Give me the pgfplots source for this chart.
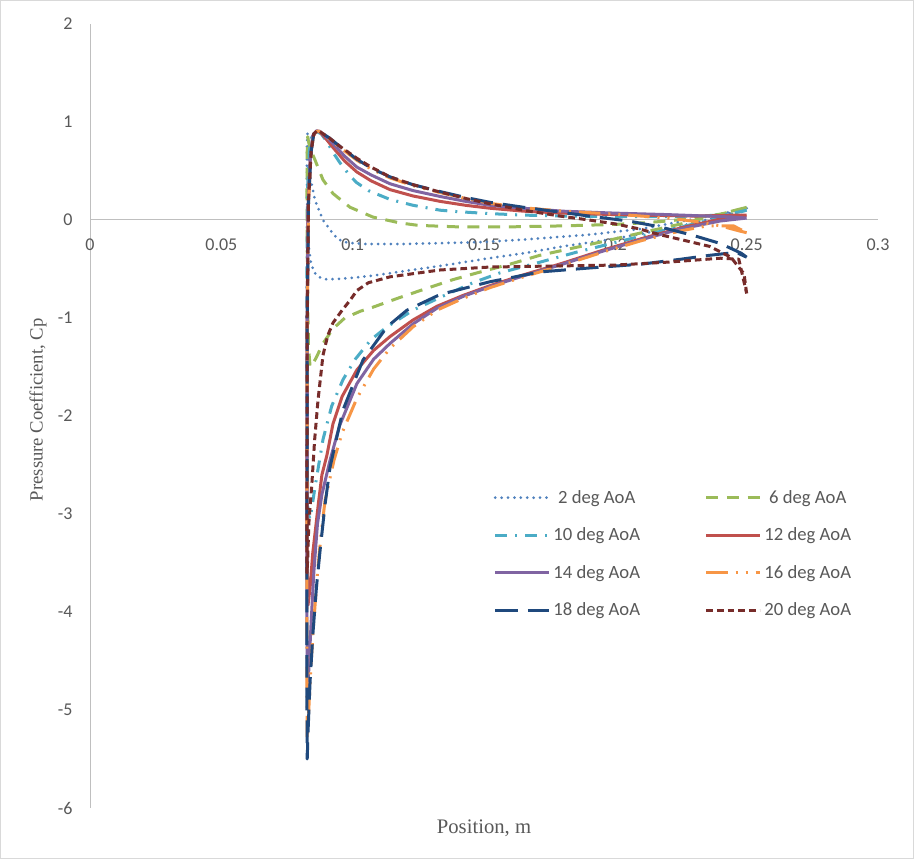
\documentclass[border=0pt]{standalone}
\usepackage{pgfplots}
\pgfplotsset{compat=1.18}
\usepackage{fontspec}
\setmainfont{Liberation Serif}
\newfontfamily\carlito{Carlito}
\definecolor{axgray}{HTML}{BFBFBF}
\definecolor{txtgray}{HTML}{595959}
\definecolor{framegray}{HTML}{D9D9D9}
\definecolor{cA}{HTML}{4F81BD}
\definecolor{cB}{HTML}{9BBB59}
\definecolor{cC}{HTML}{4BACC6}
\definecolor{cD}{HTML}{C0504D}
\definecolor{cE}{HTML}{8064A2}
\definecolor{cF}{HTML}{F79646}
\definecolor{cG}{HTML}{1F497D}
\definecolor{cH}{HTML}{772C2A}
\begin{document}
\begin{tikzpicture}
\draw[framegray, line width=0.75pt, fill=white] (0.375pt,0.375pt) rectangle (685.125pt,643.875pt);
\begin{axis}[
  at={(67.5pt,38.25pt)}, anchor=south west,
  scale only axis, width=591pt, height=588pt,
  xmin=0, xmax=0.3, ymin=-6, ymax=2,
  clip mode=individual,
  axis x line=middle, axis y line=left,
  axis line style={-, draw=axgray, line width=0.75pt},
  xtick={0,0.05,0.1,0.15,0.2,0.25,0.3},
  xticklabels={0,0.05,0.1,0.15,0.2,0.25,0.3},
  ytick={-6,-5,-4,-3,-2,-1,0,1,2},
  yticklabels={-6,-5,-4,-3,-2,-1,0,1,2},
  major tick length=0pt,
  ticklabel style={font=\carlito\fontsize{13.5}{16}\selectfont, text=txtgray},
  xticklabel style={anchor=north, yshift=-10.5pt},
  yticklabel style={anchor=east, xshift=-9.5pt},
  xlabel={Position, m}, ylabel={Pressure Coefficient, Cp},
  every axis x label/.style={at={(axis description cs:0.5,-0.0255)}, anchor=center, font=\fontsize{15.5}{18}\selectfont, text=txtgray},
  every axis y label/.style={at={(axis description cs:-0.066,0.508)}, anchor=center, rotate=90, font=\fontsize{14}{17}\selectfont, text=txtgray},
  no markers,
  every axis plot/.append style={line width=2.25pt, line join=round},
  legend columns=2,
  legend image code/.code={\draw[#1] (0pt,0pt) -- (40pt,0pt);},
  legend style={at={(rel axis cs:0.512,0.410)}, anchor=north west, draw=none, fill=none,
    inner sep=0pt, font=\carlito\fontsize{14}{16}\selectfont, text=txtgray,
    nodes={inner sep=2.5pt}, row sep=12pt,
    /tikz/every even column/.append style={column sep=46pt}},
]
% 2 deg
\addplot[cA, line cap=round, dash pattern=on 0pt off 4.8pt] coordinates {
(0.2500,0.12)(0.2450,0.09)(0.2400,0.06)(0.2300,0.01)(0.2200,-0.04)(0.2100,-0.09)(0.2000,-0.12)(0.1900,-0.15)(0.1800,-0.17)(0.1650,-0.20)(0.1500,-0.225)(0.1350,-0.235)(0.1200,-0.245)(0.1050,-0.245)(0.0990,-0.235)(0.0960,-0.22)(0.0935,-0.17)(0.0914,-0.10)(0.0887,0.00)(0.0857,0.20)(0.0838,0.44)(0.0830,0.65)(0.0827,0.80)(0.0828,0.88)
(0.0826,0.75)(0.0826,0.40)(0.0828,0.0)(0.0832,-0.25)(0.0840,-0.42)(0.0852,-0.53)(0.0870,-0.58)(0.0900,-0.605)(0.0950,-0.60)(0.1000,-0.59)(0.1100,-0.56)(0.1200,-0.52)(0.1330,-0.47)(0.1450,-0.42)(0.1520,-0.39)(0.1650,-0.34)(0.1800,-0.27)(0.1900,-0.23)(0.2000,-0.19)(0.2100,-0.14)(0.2200,-0.09)(0.2300,-0.03)(0.2400,0.04)(0.2500,0.12)
};
\addlegendentry{2 deg AoA}
% 6 deg
\addplot[cB, dash pattern=on 9pt off 6.5pt] coordinates {
(0.2500,0.13)(0.2450,0.09)(0.2400,0.06)(0.2300,0.02)(0.2200,-0.01)(0.2100,-0.03)(0.2000,-0.045)(0.1800,-0.06)(0.1600,-0.07)(0.1400,-0.07)(0.1250,-0.055)(0.1180,-0.03)(0.1077,0.03)(0.0990,0.13)(0.0925,0.27)(0.0887,0.41)(0.0857,0.61)(0.0838,0.73)(0.0832,0.80)(0.0829,0.85)
(0.0827,0.70)(0.0826,0.30)(0.0827,-0.3)(0.0829,-0.9)(0.0832,-1.3)(0.0838,-1.5)(0.0848,-1.47)(0.0862,-1.40)(0.0887,-1.26)(0.0925,-1.11)(0.0970,-1.0)(0.1030,-0.93)(0.1077,-0.89)(0.1170,-0.80)(0.1268,-0.71)(0.1380,-0.61)(0.1473,-0.54)(0.1600,-0.45)(0.1713,-0.36)(0.1850,-0.28)(0.1970,-0.21)(0.2100,-0.13)(0.2250,-0.04)(0.2400,0.06)(0.2500,0.13)
};
\addlegendentry{6 deg AoA}
% 10 deg
\addplot[cC, dash pattern=on 9pt off 6pt on 1.5pt off 6pt] coordinates {
(0.2500,0.10)(0.2450,0.07)(0.2400,0.05)(0.2300,0.04)(0.2200,0.035)(0.2000,0.035)(0.1800,0.04)(0.1650,0.05)(0.1523,0.065)(0.1400,0.085)(0.1333,0.10)(0.1230,0.15)(0.1142,0.21)(0.1060,0.30)(0.1016,0.38)(0.0990,0.45)(0.0950,0.59)(0.0925,0.69)(0.0902,0.80)(0.0880,0.88)(0.0860,0.905)(0.0845,0.88)
(0.0835,0.7)(0.0828,0.3)(0.0826,-0.5)(0.0826,-1.5)(0.0827,-2.5)(0.0830,-3.0)(0.0838,-3.05)(0.0857,-2.72)(0.0887,-2.24)(0.0920,-1.9)(0.0963,-1.63)(0.1010,-1.42)(0.1070,-1.22)(0.1131,-1.09)(0.1230,-0.92)(0.1333,-0.79)(0.1458,-0.64)(0.1560,-0.54)(0.1700,-0.44)(0.1850,-0.33)(0.2000,-0.23)(0.2150,-0.13)(0.2300,-0.04)(0.2420,0.04)(0.2500,0.10)
};
\addlegendentry{10 deg AoA}
% 12 deg
\addplot[cD] coordinates {
(0.2500,0.05)(0.2450,0.05)(0.2400,0.045)(0.2300,0.04)(0.2200,0.045)(0.2000,0.055)(0.1800,0.07)(0.1650,0.09)(0.1523,0.12)(0.1430,0.15)(0.1333,0.19)(0.1230,0.245)(0.1142,0.31)(0.1070,0.40)(0.1016,0.49)(0.0970,0.60)(0.0925,0.74)(0.0895,0.84)(0.0875,0.90)(0.0862,0.905)(0.0848,0.85)
(0.0838,0.6)(0.0830,0.1)(0.0827,-1.0)(0.0826,-2.5)(0.0827,-3.5)(0.0830,-3.93)(0.0838,-3.75)(0.0848,-3.4)(0.0857,-3.19)(0.0870,-2.88)(0.0883,-2.6)(0.0902,-2.40)(0.0925,-2.08)(0.0960,-1.80)(0.1016,-1.53)(0.1080,-1.33)(0.1142,-1.19)(0.1230,-1.02)(0.1321,-0.88)(0.1420,-0.77)(0.1523,-0.67)(0.1650,-0.56)(0.1800,-0.44)(0.1950,-0.31)(0.2100,-0.19)(0.2250,-0.08)(0.2400,0.01)(0.2500,0.05)
};
\addlegendentry{12 deg AoA}
% 14 deg
\addplot[cE] coordinates {
(0.2500,0.02)(0.2450,0.03)(0.2400,0.035)(0.2300,0.045)(0.2200,0.055)(0.2000,0.07)(0.1800,0.09)(0.1650,0.12)(0.1523,0.15)(0.1430,0.19)(0.1333,0.24)(0.1230,0.30)(0.1142,0.37)(0.1070,0.46)(0.1016,0.54)(0.0970,0.65)(0.0925,0.78)(0.0895,0.86)(0.0875,0.905)(0.0862,0.91)(0.0848,0.86)
(0.0838,0.6)(0.0830,0.1)(0.0827,-1.0)(0.0826,-3.0)(0.0826,-4.3)(0.0828,-4.8)(0.0834,-4.55)(0.0842,-4.1)(0.0852,-3.6)(0.0866,-3.1)(0.0883,-2.80)(0.0914,-2.45)(0.0950,-2.10)(0.1016,-1.67)(0.1080,-1.42)(0.1142,-1.26)(0.1230,-1.06)(0.1321,-0.90)(0.1420,-0.78)(0.1523,-0.68)(0.1650,-0.57)(0.1800,-0.45)(0.1950,-0.32)(0.2100,-0.20)(0.2250,-0.09)(0.2400,-0.01)(0.2500,0.02)
};
\addlegendentry{14 deg AoA}
% 16 deg
\addplot[cF, dash pattern=on 16pt off 6pt on 1.5pt off 6pt on 1.5pt off 6pt] coordinates {
(0.2500,-0.13)(0.2470,-0.11)(0.2400,-0.06)(0.2320,-0.02)(0.2200,0.02)(0.2000,0.06)(0.1800,0.09)(0.1650,0.125)(0.1523,0.17)(0.1430,0.22)(0.1333,0.28)(0.1230,0.35)(0.1142,0.43)(0.1070,0.52)(0.1016,0.61)(0.0952,0.74)(0.0910,0.83)(0.0887,0.88)(0.0868,0.91)(0.0852,0.88)(0.0842,0.7)
(0.0832,0.2)(0.0827,-1.0)(0.0826,-3.0)(0.0826,-4.8)(0.0827,-5.3)(0.0832,-5.05)(0.0840,-4.6)(0.0849,-4.21)(0.0866,-3.6)(0.0880,-3.2)(0.0895,-2.86)(0.0929,-2.45)(0.0960,-2.17)(0.1016,-1.82)(0.1080,-1.52)(0.1142,-1.31)(0.1230,-1.09)(0.1321,-0.92)(0.1420,-0.80)(0.1523,-0.69)(0.1650,-0.58)(0.1800,-0.46)(0.1950,-0.33)(0.2100,-0.21)(0.2250,-0.11)(0.2350,-0.06)(0.2450,-0.06)(0.2500,-0.13)
};
\addlegendentry{16 deg AoA}
% 18 deg
\addplot[cG, dash pattern=on 17pt off 7.5pt] coordinates {
(0.2500,-0.38)(0.2480,-0.34)(0.2400,-0.24)(0.2300,-0.16)(0.2170,-0.07)(0.2050,-0.01)(0.1900,0.04)(0.1790,0.08)(0.1650,0.13)(0.1523,0.18)(0.1430,0.23)(0.1333,0.29)(0.1230,0.36)(0.1142,0.44)(0.1070,0.53)(0.1016,0.62)(0.0952,0.75)(0.0910,0.84)(0.0887,0.88)(0.0868,0.91)(0.0852,0.88)(0.0842,0.7)
(0.0832,0.2)(0.0827,-1.0)(0.0826,-3.0)(0.0826,-5.0)(0.0827,-5.5)(0.0830,-5.23)(0.0838,-4.7)(0.0849,-4.21)(0.0862,-3.75)(0.0876,-3.37)(0.0895,-2.90)(0.0914,-2.52)(0.0963,-1.94)(0.1039,-1.43)(0.1131,-1.09)(0.1207,-0.92)(0.1333,-0.76)(0.1523,-0.63)(0.1713,-0.53)(0.1900,-0.49)(0.2100,-0.45)(0.2250,-0.40)(0.2360,-0.36)(0.2460,-0.33)(0.2500,-0.38)
};
\addlegendentry{18 deg AoA}
% 20 deg
\addplot[cH, dash pattern=on 5pt off 3pt] coordinates {
(0.2500,-0.75)(0.2490,-0.55)(0.2440,-0.38)(0.2360,-0.27)(0.2250,-0.20)(0.2170,-0.15)(0.2090,-0.09)(0.2000,-0.04)(0.1900,0.00)(0.1790,0.04)(0.1650,0.10)(0.1523,0.165)(0.1430,0.22)(0.1333,0.285)(0.1230,0.36)(0.1142,0.44)(0.1070,0.54)(0.1016,0.63)(0.0952,0.75)(0.0910,0.84)(0.0887,0.88)(0.0868,0.915)(0.0852,0.88)(0.0842,0.7)
(0.0832,0.2)(0.0827,-1.0)(0.0826,-2.5)(0.0826,-3.6)(0.0829,-3.45)(0.0833,-3.1)(0.0845,-2.68)(0.0855,-2.25)(0.0868,-1.84)(0.0887,-1.38)(0.0905,-1.18)(0.0925,-1.05)(0.0960,-0.92)(0.0990,-0.82)(0.1016,-0.72)(0.1060,-0.64)(0.1142,-0.58)(0.1333,-0.51)(0.1523,-0.48)(0.1750,-0.47)(0.2000,-0.46)(0.2200,-0.43)(0.2400,-0.39)(0.2470,-0.40)(0.2500,-0.75)
};
\addlegendentry{20 deg AoA}
\node[anchor=north, yshift=-10.5pt, inner sep=0.333em, font=\carlito\fontsize{13.5}{16}\selectfont, text=txtgray] at (axis cs:0,0) {0};
\end{axis}
\end{tikzpicture}
\end{document}
